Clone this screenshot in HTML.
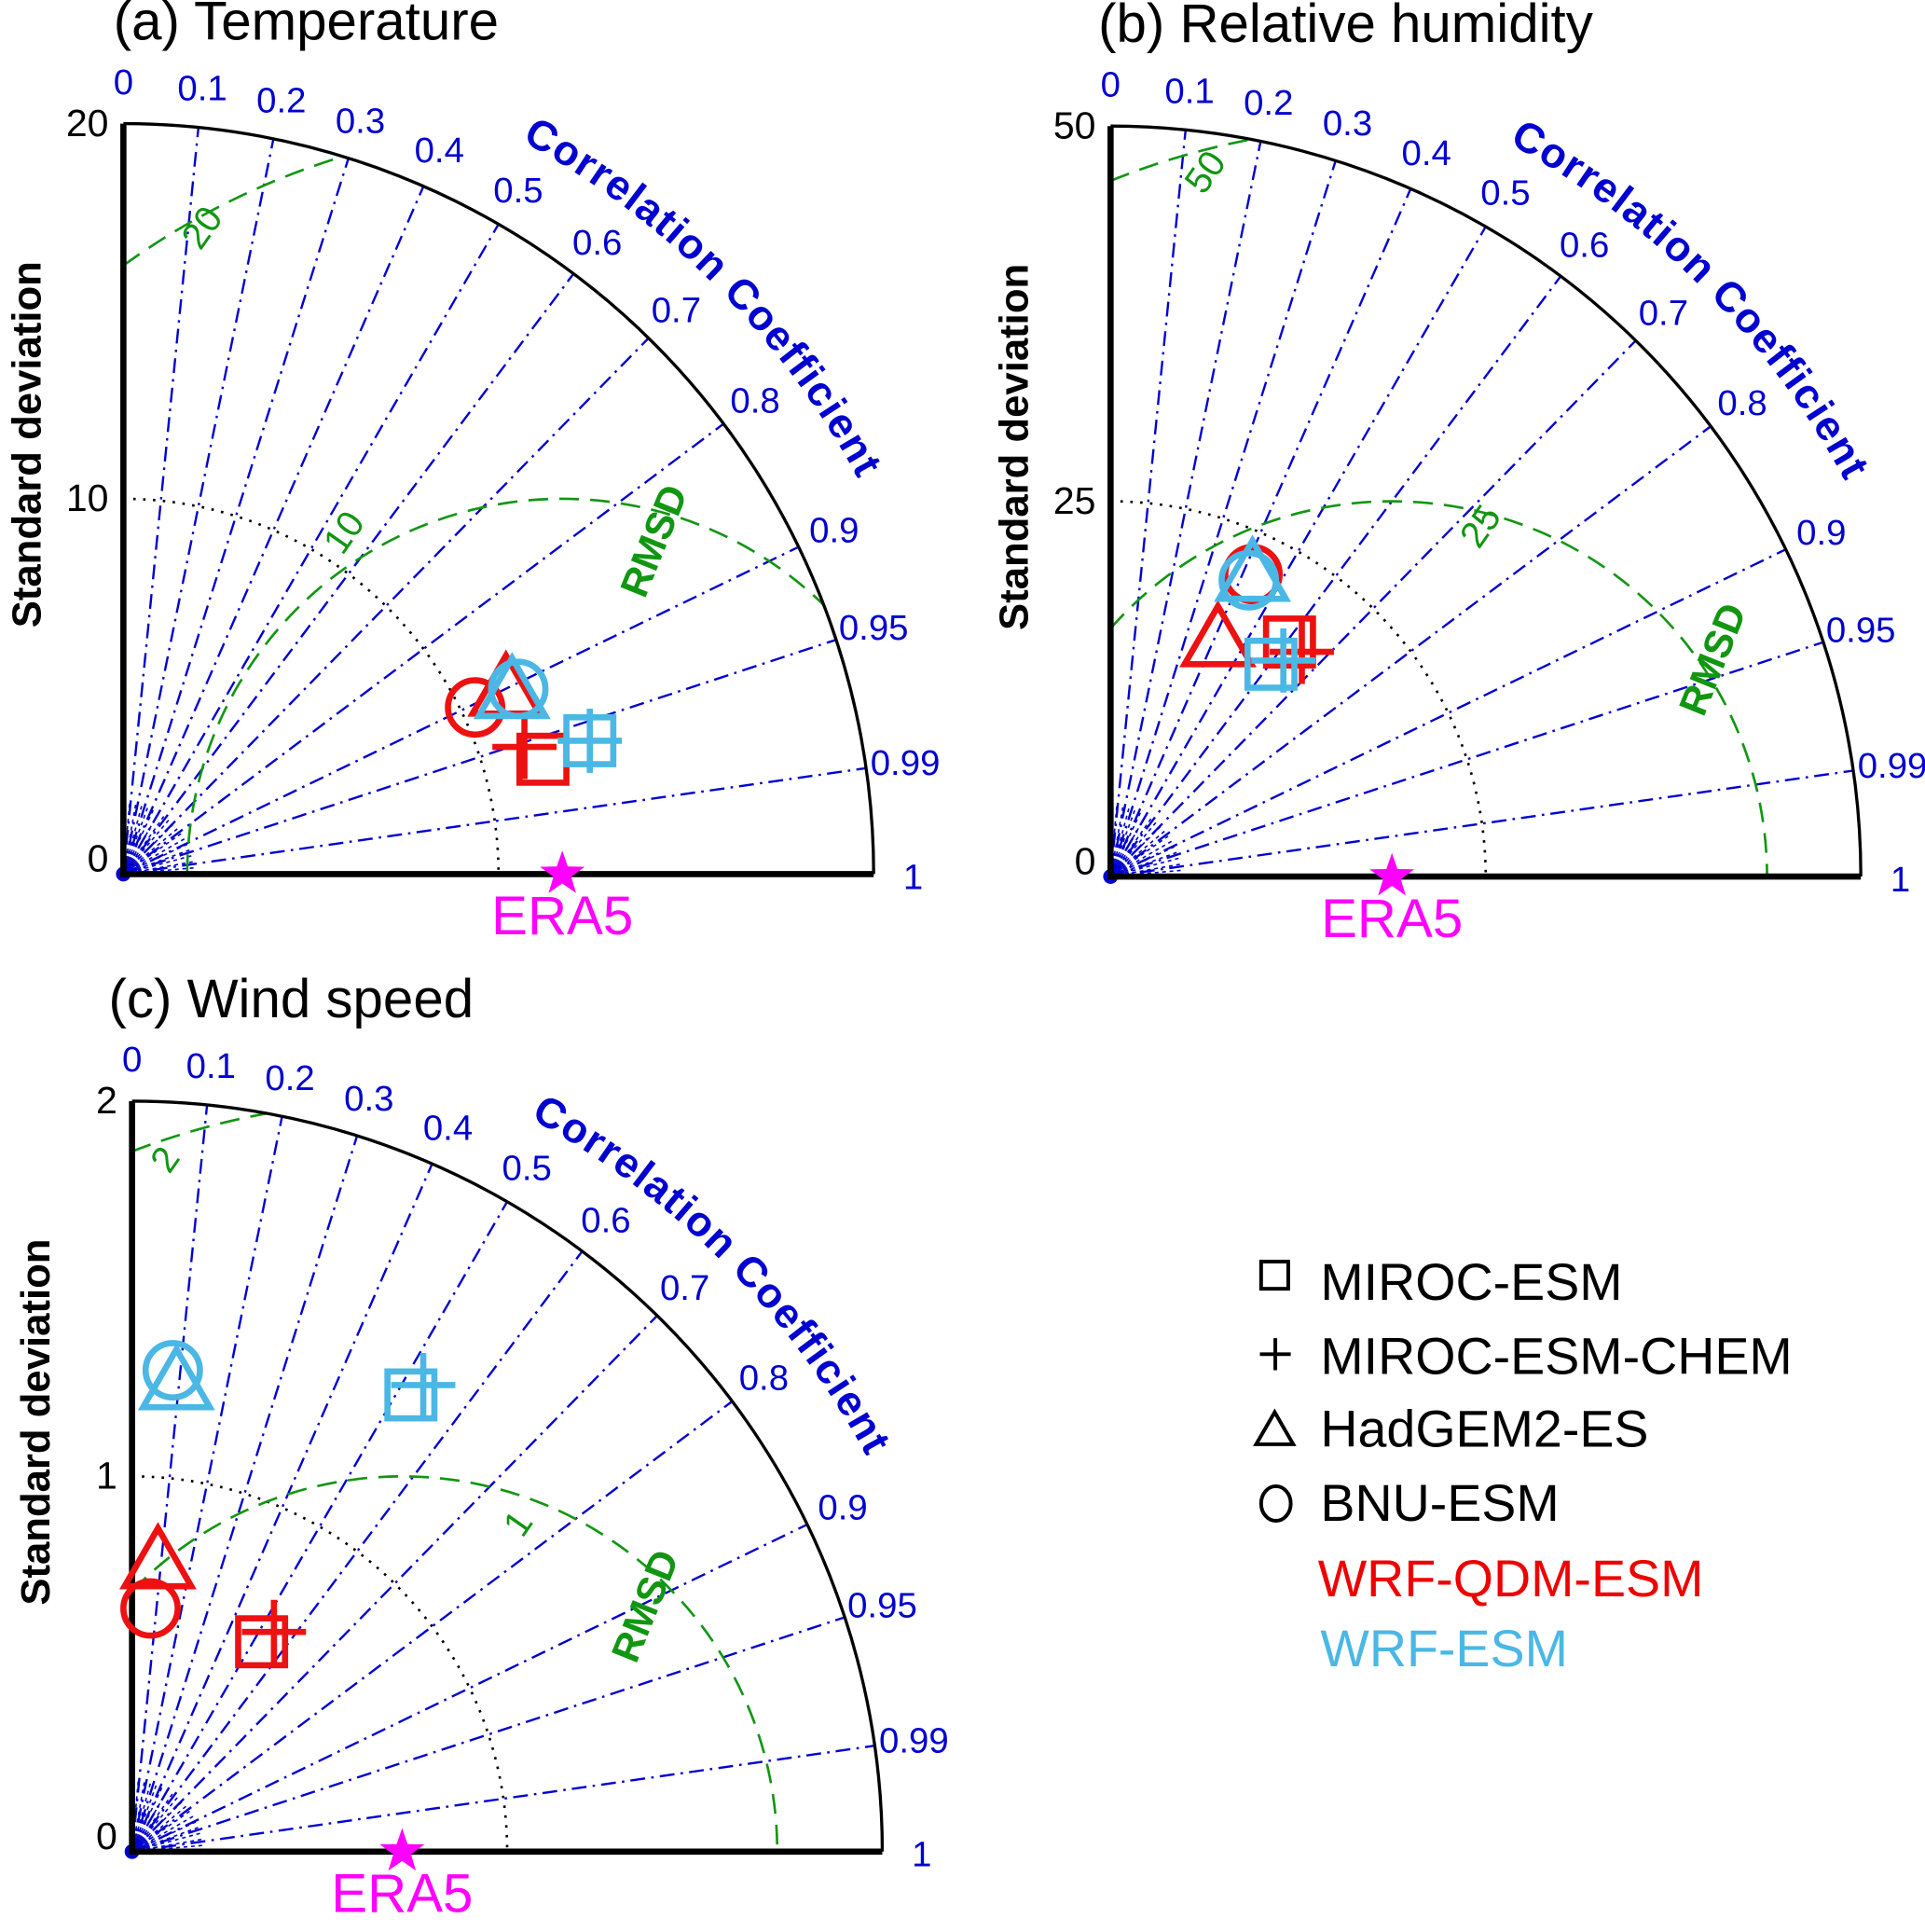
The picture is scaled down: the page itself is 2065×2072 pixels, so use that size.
<!DOCTYPE html>
<html><head><meta charset="utf-8"><style>
html,body{margin:0;padding:0;background:#fff}
svg{display:block}
text{font-family:"Liberation Sans",Arial,sans-serif}
</style></head><body>
<svg id="s" width="2065" height="2072" viewBox="0 0 1560 1565" xmlns="http://www.w3.org/2000/svg">
<rect width="1560" height="1565" fill="#fff"/>
<g id="g"></g>
<g font-size="42" fill="#000">
<rect x="1022" y="1022" width="22" height="22" fill="none" stroke="#000" stroke-width="3"/>
<text x="1070" y="1053">MIROC-ESM</text>
<path d="M1021 1097 H1046 M1033.5 1084 V1110" stroke="#000" stroke-width="3"/>
<text x="1070" y="1113">MIROC-ESM-CHEM</text>
<path d="M1018 1170 L1048 1170 L1033 1144 Z" fill="none" stroke="#000" stroke-width="3"/>
<text x="1070" y="1172">HadGEM2-ES</text>
<ellipse cx="1034" cy="1218" rx="12" ry="14" fill="none" stroke="#000" stroke-width="3"/>
<text x="1070" y="1232">BNU-ESM</text>
<text x="1068" y="1293" fill="#ee0000">WRF-QDM-ESM</text>
<text x="1070" y="1350" fill="#4bb7e5">WRF-ESM</text>
</g>
</svg>
<script>
const NS="http://www.w3.org/2000/svg";
const G=document.getElementById('g');
function el(t,a,txt){const e=document.createElementNS(NS,t);for(const k in a)e.setAttribute(k,a[k]);if(txt!==undefined)e.textContent=txt;G.appendChild(e);return e;}
const BLUE="#0000d0",GREEN="#129612",RED="#ee1111",CY="#4bb7e5",MAG="#ff00ff";
let pid=0;
function panel(o){
 const ox=o.ox,oy=o.oy,R=608,mx=o.max;
 const P=(r,a)=>[ox+r*Math.cos(a),oy-r*Math.sin(a)];
 el('text',{x:o.tx,y:oy-676,'font-size':44},o.title);
 const cs=[0.1,0.2,0.3,0.4,0.5,0.6,0.7,0.8,0.9,0.95,0.99];
 cs.forEach(c=>{const a=Math.acos(c);const p=P(R,a);
  el('line',{x1:ox,y1:oy,x2:p[0],y2:p[1],stroke:BLUE,'stroke-width':1.8,'stroke-dasharray':'12 5 2 5'});
  const q=P(R+32,a);el('text',{x:q[0],y:q[1]+10,'font-size':29,fill:BLUE,'text-anchor':'middle'},String(c));});
 for(let i=1;i<18;i++){const a=i*Math.PI/36;const p=P(60,a);el('line',{x1:ox,y1:oy,x2:p[0],y2:p[1],stroke:BLUE,'stroke-width':1.2,'stroke-dasharray':'3 3'});}
 el('circle',{cx:ox,cy:oy,r:6,fill:BLUE});
 let q=P(R+32,Math.PI/2);el('text',{x:q[0],y:q[1]+8,'font-size':29,fill:BLUE,'text-anchor':'middle'},'0');
 el('text',{x:ox+R+32,y:oy+12,'font-size':29,fill:BLUE,'text-anchor':'middle'},'1');
 el('path',{d:`M${ox} ${oy-R/2} A${R/2} ${R/2} 0 0 1 ${ox+R/2} ${oy}`,fill:'none',stroke:'#000','stroke-width':2,'stroke-dasharray':'2 6'});
 const rx=ox+o.ref/mx*R;const d=rx-ox;
 [R/2,R].forEach(r=>{
  let start,end;
  if(r>d){start=[ox,oy-Math.sqrt(r*r-d*d)];}else{start=[rx-r,oy];}
  const xi=(R*R-r*r+d*d)/(2*d);
  if(rx+r>R+ox-0.1 ){end=[ox+xi,oy-Math.sqrt(Math.max(0,R*R-xi*xi))];}else{end=[rx+r,oy];}
  el('path',{d:`M${start[0]} ${start[1]} A${r} ${r} 0 0 1 ${end[0]} ${end[1]}`,fill:'none',stroke:GREEN,'stroke-width':2,'stroke-dasharray':'16 9'});
 });
 o.rl.forEach(t=>el('text',{x:t[0],y:t[1],'font-size':30,fill:GREEN,'text-anchor':'middle',transform:`rotate(${t[3]} ${t[0]} ${t[1]})`},t[2]));
 el('text',{x:o.rm[0],y:o.rm[1],'font-size':32,'font-weight':'bold',fill:GREEN,'text-anchor':'middle',transform:`rotate(-68 ${o.rm[0]} ${o.rm[1]})`},'RMSD');
 el('path',{d:`M${ox} ${oy-R} A${R} ${R} 0 0 1 ${ox+R} ${oy}`,fill:'none',stroke:'#000','stroke-width':2.5});
 el('path',{d:`M${ox} ${oy-R} V${oy} H${ox+R}`,fill:'none',stroke:'#000','stroke-width':5});
 o.yl.forEach((t,i)=>el('text',{x:ox-12,y:oy-i*R/2+(i==0?-2:10),'font-size':31,'text-anchor':'end'},t));
 el('text',{x:ox-67,y:oy-348,'font-size':33,'font-weight':'bold','text-anchor':'middle',transform:`rotate(-90 ${ox-67} ${oy-348})`},'Standard deviation');
 const id='cp'+(pid++);const rr=676;
 const a1=62*Math.PI/180,a2=22*Math.PI/180;const s=P(rr,a1),e=P(rr,a2);
 el('path',{id:id,d:`M${s[0]} ${s[1]} A${rr} ${rr} 0 0 1 ${e[0]} ${e[1]}`,fill:'none'});
 const tx=el('text',{'font-size':34,'font-weight':'bold',fill:BLUE});
 const tp=document.createElementNS(NS,'textPath');tp.setAttribute('href','#'+id);tp.setAttribute('startOffset','6');tp.setAttribute('textLength','392');tp.textContent='Correlation Coefficient';tx.appendChild(tp);
 star(rx,oy,19);
 el('text',{x:rx,y:oy+49,'font-size':44,fill:MAG,'text-anchor':'middle'},'ERA5');
 o.m.forEach(m=>mark(m[0],m[1],m[2],m[3]));
}
function star(cx,cy,r){let p=[];for(let i=0;i<10;i++){const a=-Math.PI/2+i*Math.PI/5;const rr=i%2?r*0.4:r;p.push((cx+rr*Math.cos(a)).toFixed(1)+','+(cy+rr*Math.sin(a)).toFixed(1));}el('polygon',{points:p.join(' '),fill:MAG});}
function mark(t,x,y,c){const a={fill:'none',stroke:c,'stroke-width':5};
 if(t=='s')el('rect',Object.assign({x:x-19,y:y-19,width:38,height:38},a));
 if(t=='p')el('path',Object.assign({d:`M${x-26} ${y}H${x+26}M${x} ${y-26}V${y+26}`},a));
 if(t=='t')el('path',Object.assign({d:`M${x-27} ${y+20}H${x+27}L${x} ${y-27}Z`},a));
 if(t=='c')el('circle',Object.assign({cx:x,cy:y,r:22},a));}
panel({ox:100,oy:708,tx:92,max:20,ref:11.7,title:'(a) Temperature',yl:['0','10','20'],
 rl:[[172,190,'20',-55],[287,437,'10',-55]],rm:[540,442],
 m:[['c',385,573,RED],['t',410,558,RED],['s',440,615,RED],['p',425,605,RED],['c',420,558,CY],['t',415,560,CY],['s',478,600,CY],['p',478,600,CY]]});
panel({ox:900,oy:710,tx:890,max:50,ref:18.75,title:'(b) Relative humidity',yl:['0','25','50'],
 rl:[[985,145,'50',-55],[1208,432,'25',-55]],rm:[1398,538],
 m:[['c',1015,465,RED],['t',987,518,RED],['s',1045,520,RED],['p',1055,528,RED],['c',1012,470,CY],['t',1015,465,CY],['s',1030,538,CY],['p',1040,535,CY]]});
panel({ox:107,oy:1500,tx:88,max:2,ref:0.72,title:'(c) Wind speed',yl:['0','1','2'],
 rl:[[142,945,'2',-55],[428,1240,'1',-55]],rm:[533,1305],
 m:[['c',122,1303,RED],['t',128,1265,RED],['s',212,1330,RED],['p',222,1322,RED],['c',140,1110,CY],['t',143,1120,CY],['s',333,1130,CY],['p',343,1122,CY]]});
</script>
</body></html>
